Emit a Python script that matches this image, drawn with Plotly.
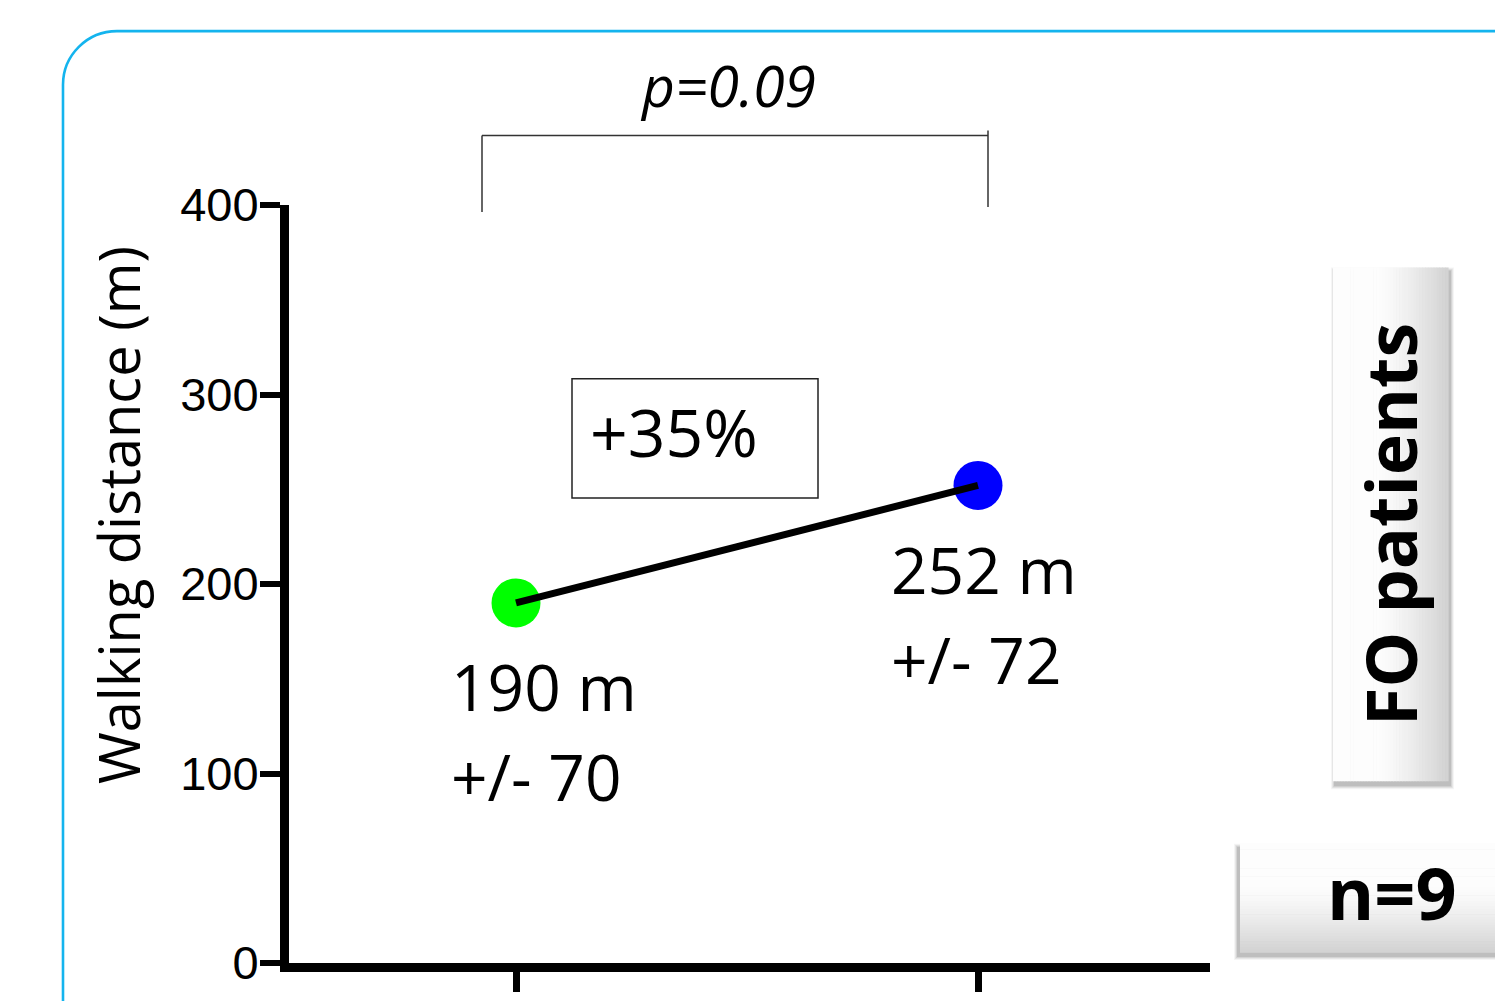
import plotly.graph_objects as go

# ---------------- data ----------------
groups = [0, 1]                      # two time points (no category labels shown)
means = [190, 252]                   # walking distance (m)
sds = [70, 72]
point_colors = ["#00ff00", "#0000ff"]
y_ticks = [0, 100, 200, 300, 400]
pct_change = "+35%"
p_value = "p=0.09"
group_box = "FO patients"
n_text = "n=9"
y_title = "Walking distance (m)"

# ---------------- geometry (pixels) ----------------
W, H = 1495, 1001
L, R, T, B = 289, 1210, 205, 968
PW, PH = R - L, B - T
# category centres at 516 px and 978 px
XSPAN = PW / (978 - 516)
XMIN = -(516 - L) / (978 - 516)


def px(x):
    return (x - L) / PW


def py(y):
    return (B - y) / PH


fig = go.Figure()

# markers first, then connecting line on top
fig.add_trace(go.Scatter(
    x=groups, y=means, mode="markers",
    marker=dict(size=49, color=point_colors, line=dict(width=0)),
    showlegend=False, hoverinfo="skip"))
fig.add_trace(go.Scatter(
    x=groups, y=means, mode="lines",
    line=dict(color="black", width=7),
    showlegend=False, hoverinfo="skip"))

shapes = []

# rounded cyan frame
r = 54
x0, y0 = 63, 30
path = (f"M {px(x0)} {py(1010)} L {px(x0)} {py(y0 + r)} "
        f"C {px(x0)} {py(y0 + r * 0.448)}, {px(x0 + r * 0.448)} {py(y0)}, {px(x0 + r)} {py(y0)} "
        f"L {px(1510)} {py(y0)}")
shapes.append(dict(type="path", xref="paper", yref="paper", path=path,
                   line=dict(color="#14b4ee", width=2.6)))

# bracket for p value
bracket_col = "#333333"
shapes.append(dict(type="line", xref="paper", yref="paper",
                   x0=px(482), x1=px(988), y0=py(135), y1=py(135),
                   line=dict(color=bracket_col, width=1.5)))
shapes.append(dict(type="line", xref="paper", yref="paper",
                   x0=px(482), x1=px(482), y0=py(135), y1=py(212),
                   line=dict(color=bracket_col, width=1.5)))
shapes.append(dict(type="line", xref="paper", yref="paper",
                   x0=px(988), x1=px(988), y0=py(130), y1=py(207),
                   line=dict(color=bracket_col, width=1.5)))

# +35% box
shapes.append(dict(type="rect", xref="paper", yref="paper",
                   x0=px(572), x1=px(818), y0=py(380), y1=py(500),
                   line=dict(color="#222222", width=1.5), fillcolor="rgba(0,0,0,0)"))


def shadow(bx0, by0, bx1, by1, dx, dy):
    for i, a in enumerate([0.04, 0.06, 0.08, 0.10]):
        g = 4 - i
        shapes.append(dict(type="rect", xref="paper", yref="paper", layer="below",
                           x0=px(bx0 + dx - g), x1=px(bx1 + dx + g),
                           y0=py(by0 + dy - g), y1=py(by1 + dy + g),
                           line=dict(width=0), fillcolor=f"rgba(0,0,0,{a})"))


def gradient_box(bx0, by0, bx1, by1, horizontal, n=40):
    for i in range(n):
        t = i / (n - 1)
        f = max(0.0, (t - 0.4) / 0.6) ** 1.3
        c = int(253 - f * 42)
        col = f"rgb({c},{c},{c})"
        if horizontal:
            a0 = bx0 + (bx1 - bx0) * i / n
            a1 = bx0 + (bx1 - bx0) * (i + 1) / n + 0.6
            shapes.append(dict(type="rect", xref="paper", yref="paper", layer="below",
                               x0=px(a0), x1=px(a1), y0=py(by0), y1=py(by1),
                               line=dict(width=0), fillcolor=col))
        else:
            a0 = by0 + (by1 - by0) * i / n
            a1 = by0 + (by1 - by0) * (i + 1) / n + 0.6
            shapes.append(dict(type="rect", xref="paper", yref="paper", layer="below",
                               x0=px(bx0), x1=px(bx1), y0=py(a0), y1=py(a1),
                               line=dict(width=0), fillcolor=col))


# FO patients box
shadow(1333, 268, 1448, 785, 2, 4)
gradient_box(1333, 268, 1448, 785, horizontal=True)
# n=9 box
shadow(1240, 848, 1500, 957, -2, 4)
gradient_box(1240, 848, 1500, 957, horizontal=False)

annotations = []
txt_font = "Open Sans, Noto Sans, sans-serif"

annotations.append(dict(xref="paper", yref="paper", x=px(118), y=py(517),
                        text=y_title, textangle=-90, showarrow=False,
                        font=dict(family=txt_font, size=56, color="black"),
                        xanchor="center", yanchor="middle"))
annotations.append(dict(xref="paper", yref="paper", x=px(728), y=py(84),
                        text=f"<i>{p_value}</i>", showarrow=False,
                        font=dict(family=txt_font, size=57, color="black"),
                        xanchor="center", yanchor="middle"))
annotations.append(dict(xref="paper", yref="paper", x=px(588), y=py(432),
                        text=pct_change, showarrow=False,
                        font=dict(family=txt_font, size=66, color="black"),
                        xanchor="left", yanchor="middle"))

label_dx = [-67, -89]
for g, m, s, dx in zip(groups, means, sds, label_dx):
    annotations.append(dict(x=g, y=m, xref="x", yref="y", text=f"{m} m",
                            showarrow=False, xanchor="left", yanchor="middle",
                            xshift=dx, yshift=-84,
                            font=dict(family=txt_font, size=64, color="black")))
    annotations.append(dict(x=g, y=m, xref="x", yref="y", text=f"+/- {s}",
                            showarrow=False, xanchor="left", yanchor="middle",
                            xshift=dx, yshift=-174,
                            font=dict(family=txt_font, size=64, color="black")))

annotations.append(dict(xref="paper", yref="paper", x=px(1390), y=py(527),
                        text=f"<b>{group_box}</b>", textangle=-90, showarrow=False,
                        font=dict(family=txt_font, size=70, color="black"),
                        xanchor="center", yanchor="middle"))
annotations.append(dict(xref="paper", yref="paper", x=px(1392), y=py(897),
                        text=f"<b>{n_text}</b>", showarrow=False,
                        font=dict(family=txt_font, size=72, color="black"),
                        xanchor="center", yanchor="middle"))

fig.update_layout(
    width=W, height=H,
    margin=dict(l=L, r=W - R, t=T, b=H - B, pad=0),
    paper_bgcolor="white", plot_bgcolor="white",
    shapes=shapes, annotations=annotations,
    showlegend=False,
    xaxis=dict(range=[XMIN, XMIN + XSPAN], tickvals=groups, ticktext=["", ""],
               showgrid=False, zeroline=False, showline=True,
               linecolor="black", linewidth=9,
               ticks="outside", ticklen=20, tickwidth=7, tickcolor="black"),
    yaxis=dict(range=[0, 400], tickvals=y_ticks,
               showgrid=False, zeroline=False, showline=True,
               linecolor="black", linewidth=9,
               ticks="outside", ticklen=20, tickwidth=6, tickcolor="black",
               ticklabelstandoff=-8,
               tickfont=dict(family="Liberation Sans, Arial, sans-serif", size=47, color="black")),
)

fig.write_html(
    "out.html",
    config={"displayModeBar": False},
    post_script="document.body.style.margin='0';document.body.style.overflow='hidden';",
)
